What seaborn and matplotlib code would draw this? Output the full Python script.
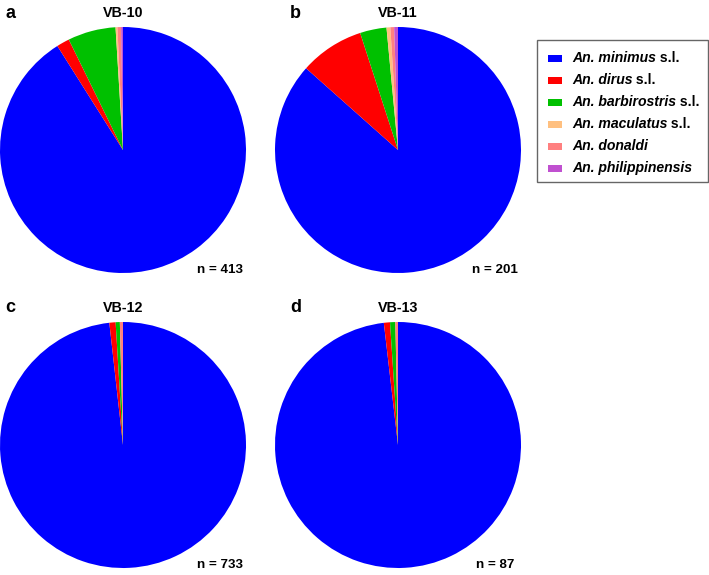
import matplotlib
matplotlib.use("Agg")
import matplotlib.pyplot as plt
import seaborn as sns
from matplotlib.patches import Rectangle

# species (legend order) and colours
species = ["An. minimus", "An. dirus", "An. barbirostris",
           "An. maculatus", "An. donaldi", "An. philippinensis"]
suffix = [" s.l.", " s.l.", " s.l.", " s.l.", "", ""]
colors = ["#0000FF", "#FF0000", "#00C000", "#FFC080", "#FF8080", "#C050D0"]

# counts per site
sites = ["VB-10", "VB-11", "VB-12", "VB-13"]
letters = ["a", "b", "c", "d"]
n_labels = [413, 201, 733, 87]
vb10 = [376, 7, 26, 1, 2, 1]
vb11 = [174, 17, 7, 1, 1, 1]
vb12 = [720, 6, 4, 0, 3, 0]
vb13 = [85.4, 0.7, 0.6, 0, 0.3, 0]
counts = [vb10, vb11, vb12, vb13]

sns.set_theme(style="white")
plt.rcParams["font.family"] = ["Liberation Sans", "DejaVu Sans"]
plt.rcParams["text.color"] = "black"

W, H = 709, 575
fig = plt.figure(figsize=(W / 100, H / 100), dpi=100)


def fx(x):
    return x / W


def fy(y):
    return 1 - y / H


centres = [(123, 150), (398, 150), (123, 445), (398, 445)]
r = 123
for i in range(4):
    cx, cy = centres[i]
    ax = fig.add_axes([fx(cx - r), fy(cy + r), 2 * r / W, 2 * r / H])
    ax.pie(counts[i], colors=colors, startangle=90, counterclock=False,
           radius=1, wedgeprops=dict(linewidth=0))
    ax.set_xlim(-1, 1)
    ax.set_ylim(-1, 1)
    ax.set_aspect("equal")
    ax.axis("off")
    # panel letter, title, n
    lx = 5 if i % 2 == 0 else 290
    fig.text(fx(lx), fy(cy - 137), letters[i], fontsize=13,
             fontweight="bold", ha="left", va="center")
    fig.text(fx(cx), fy(cy - 137), sites[i], fontsize=10.3,
             fontweight="bold", ha="center", va="center")
    fig.text(fx(cx + 97), fy(cy + 120), "n = %d" % n_labels[i],
             fontsize=9.6, fontweight="bold", ha="center", va="center")

# legend drawn by hand so the species name can be bold italic and s.l. upright
fig.patches.append(Rectangle((fx(537), fy(182)), (708 - 537) / W, 142 / H,
                             transform=fig.transFigure, facecolor="white",
                             edgecolor="#666666", linewidth=1.0))
rows = [58, 80, 102, 124, 146, 168]
fig.canvas.draw()
renderer = fig.canvas.get_renderer()
for k in range(6):
    y = rows[k]
    fig.patches.append(Rectangle((fx(548), fy(y + 3.5)), 14 / W, 7 / H,
                                 transform=fig.transFigure,
                                 facecolor=colors[k], edgecolor="none"))
    t = fig.text(fx(572), fy(y + 4), species[k], fontsize=10.1,
                 fontweight="bold", fontstyle="italic", ha="left",
                 va="baseline")
    if suffix[k]:
        x_end = t.get_window_extent(renderer).x1 / W
        fig.text(x_end, fy(y + 4), suffix[k], fontsize=10.1,
                 fontweight="bold", ha="left", va="baseline")

fig.savefig("out.png", dpi=100)
